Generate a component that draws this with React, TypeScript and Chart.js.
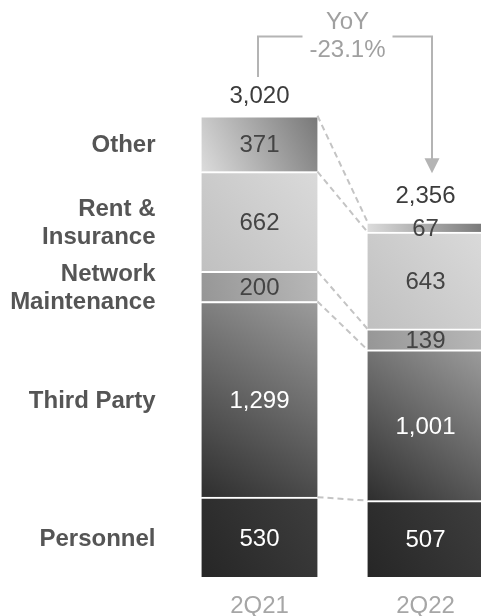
import React, { useEffect, useRef } from 'react';
import { Chart, registerables } from 'chart.js';

Chart.register(...registerables);

const periods = ['2Q21', '2Q22'];
const categoryLines = [['Personnel'], ['Third Party'], ['Network', 'Maintenance'], ['Rent &', 'Insurance'], ['Other']];
const personnel = [530, 507];
const thirdParty = [1299, 1001];
const networkMaintenance = [200, 139];
const rentInsurance = [662, 643];
const other = [371, 67];
const totals = [3020, 2356];
const yoyLabel = ['YoY', '-23.1%'];

const seriesValues = [personnel, thirdParty, networkMaintenance, rentInsurance, other];
const seriesNames = ['Personnel', 'Third Party', 'Network Maintenance', 'Rent & Insurance', 'Other'];

const gradientStops = [
  ['#262626', '#3e3e3e'],
  ['#2e2e2e', '#9c9c9c'],
  ['#969696', '#b8b8b8'],
  ['#c0c0c0', '#dadada'],
  ['#dcdcdc', '#787878'],
];
const valueColors = ['#ffffff', '#ffffff', '#444444', '#444444', '#444444'];
const FONT = '"Liberation Sans", Arial, sans-serif';

const makeBg = (ds: number) => (c: any) => {
  const chart = c.chart;
  const stops = gradientStops[ds];
  const i = c.dataIndex;
  const xs = chart.scales?.x;
  const ys = chart.scales?.y;
  if (typeof i !== 'number' || !chart.chartArea || !xs || !ys) return stops[0];
  let base = 0;
  for (let k = 0; k < ds; k++) base += seriesValues[k][i];
  const val = seriesValues[ds][i];
  const cx = xs.getPixelForValue(i);
  const yb = ys.getPixelForValue(base);
  const yt = ys.getPixelForValue(base + val);
  const g = chart.ctx.createLinearGradient(cx - 58, yb, cx + 58, yt);
  g.addColorStop(0, stops[0]);
  g.addColorStop(1, stops[1]);
  return g;
};

const overlay = {
  id: 'overlay',
  afterDatasetsDraw(chart: any) {
    const ctx = chart.ctx as CanvasRenderingContext2D;
    const metas = seriesValues.map((_, d) => chart.getDatasetMeta(d));
    const xs = chart.scales.x;
    const ys = chart.scales.y;
    const area = chart.chartArea;
    ctx.save();

    // dashed connectors
    ctx.setLineDash([6, 4]);
    ctx.lineWidth = 2;
    ctx.strokeStyle = '#c4c4c4';
    metas.forEach((m: any) => {
      const a = m.data[0];
      const b = m.data[1];
      ctx.beginPath();
      ctx.moveTo(a.x + a.width / 2, a.y);
      ctx.lineTo(b.x - b.width / 2, b.y);
      ctx.stroke();
    });
    ctx.setLineDash([]);

    // value labels
    ctx.textAlign = 'center';
    ctx.textBaseline = 'middle';
    ctx.font = `24px ${FONT}`;
    metas.forEach((m: any, d: number) => {
      m.data.forEach((el: any, i: number) => {
        ctx.fillStyle = valueColors[d];
        const cy = (el.y + 2 + el.base) / 2 + 1;
        ctx.fillText(seriesValues[d][i].toLocaleString('en-US'), el.x, cy);
      });
    });

    // totals
    ctx.textBaseline = 'alphabetic';
    ctx.fillStyle = '#3c3c3c';
    totals.forEach((t, i) => {
      const top = ys.getPixelForValue(t);
      ctx.fillText(t.toLocaleString('en-US'), xs.getPixelForValue(i), top - 19);
    });

    // category labels
    ctx.textAlign = 'right';
    ctx.textBaseline = 'middle';
    ctx.font = `bold 24px ${FONT}`;
    ctx.fillStyle = '#555555';
    metas.forEach((m: any, d: number) => {
      const el = m.data[0];
      const center = (el.y + 2 + el.base) / 2 + 1;
      const lines = categoryLines[d];
      const rx = el.x - el.width / 2 - 46;
      lines.forEach((ln, j) => {
        ctx.fillText(ln, rx, center + (j - (lines.length - 1) / 2) * 28);
      });
    });

    // x labels
    ctx.textAlign = 'center';
    ctx.font = `24px ${FONT}`;
    ctx.fillStyle = '#a6a6a6';
    periods.forEach((p, i) => {
      ctx.fillText(p, xs.getPixelForValue(i), area.bottom + 29);
    });

    // YoY bracket
    const x0 = xs.getPixelForValue(0) - 1.5;
    const x1 = xs.getPixelForValue(1) + 6.5;
    const midX = (xs.getPixelForValue(0) + xs.getPixelForValue(1)) / 2 + 5;
    const by = area.top - 58.5;
    const leftBottom = ys.getPixelForValue(totals[0]) - 45;
    const tip = ys.getPixelForValue(totals[1]) - 49;
    ctx.strokeStyle = '#b4b4b4';
    ctx.fillStyle = '#b4b4b4';
    ctx.lineWidth = 2;
    ctx.beginPath();
    ctx.moveTo(x0, leftBottom);
    ctx.lineTo(x0, by);
    ctx.lineTo(midX - 45, by);
    ctx.moveTo(midX + 45, by);
    ctx.lineTo(x1, by);
    ctx.lineTo(x1, tip - 14);
    ctx.stroke();
    ctx.beginPath();
    ctx.moveTo(x1 - 7.5, tip - 15);
    ctx.lineTo(x1 + 7.5, tip - 15);
    ctx.lineTo(x1, tip);
    ctx.closePath();
    ctx.fill();

    ctx.fillStyle = '#a0a0a0';
    ctx.textBaseline = 'alphabetic';
    ctx.fillText(yoyLabel[0], midX, by - 7.5);
    ctx.fillText(yoyLabel[1], midX, by + 20.5);

    ctx.restore();
  },
};

export default function App() {
  const ref = useRef<HTMLCanvasElement | null>(null);
  useEffect(() => {
    if (!ref.current) return;
    const chart = new Chart(ref.current, {
      type: 'bar',
      data: {
        labels: periods,
        datasets: seriesValues.map((vals, d) => ({
          label: seriesNames[d],
          data: vals,
          backgroundColor: makeBg(d),
          borderColor: '#ffffff',
          borderWidth: { top: 2, right: 0, bottom: 0, left: 0 },
          borderSkipped: false,
          barThickness: 116,
          clip: false as any,
        })),
      },
      options: {
        responsive: false,
        animation: false,
        events: [],
        layout: { padding: { left: 259.5, right: 55.5, top: 95, bottom: 39 } },
        plugins: { legend: { display: false }, tooltip: { enabled: false } },
        scales: {
          x: { stacked: true, display: false, offset: false },
          y: { stacked: true, display: false, min: 0, max: 3200 },
        },
      },
      plugins: [overlay],
    });
    return () => chart.destroy();
  }, []);
  return (
    <div style={{ position: 'absolute', left: 0, top: 0, width: 481, height: 616, background: '#fff' }}>
      <canvas ref={ref} width={481} height={616} style={{ display: 'block' }} />
    </div>
  );
}
